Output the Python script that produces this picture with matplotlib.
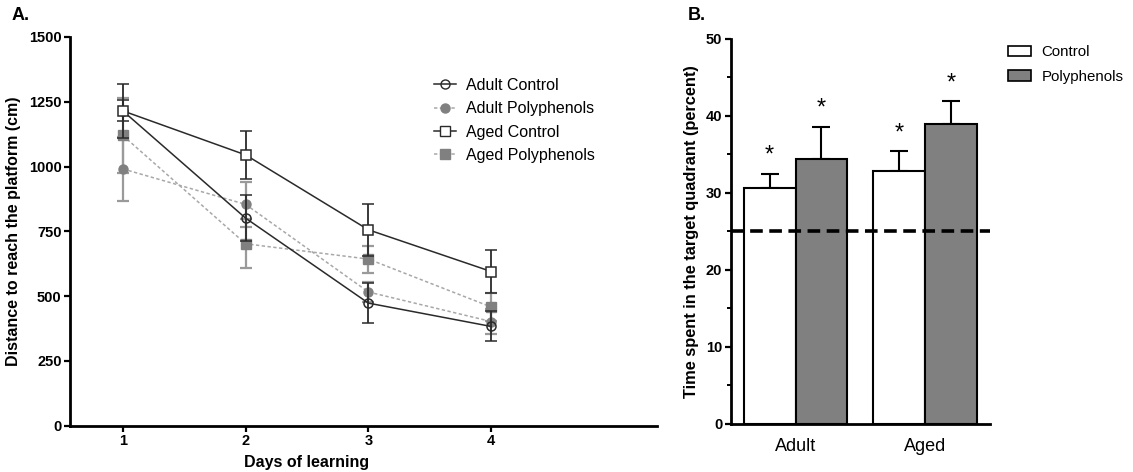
import matplotlib
matplotlib.use("Agg")
import matplotlib.pyplot as plt
from matplotlib.patches import Patch
from matplotlib.lines import Line2D

plt.rcParams['font.family'] = ['Liberation Sans', 'DejaVu Sans']

# ---- Panel A data ----
days = [1, 2, 3, 4]
adult_control = [1215, 801, 473, 383]
adult_control_err = [40, 89, 78, 58]
adult_poly = [991, 854, 516, 402]
adult_poly_err = [122, 87, 37, 49]
aged_control = [1215, 1045, 756, 595]
aged_control_err = [105, 92, 100, 84]
aged_poly = [1120, 702, 643, 458]
aged_poly_err = [143, 94, 52, 55]
series_labels = ["Adult Control", "Adult Polyphenols", "Aged Control", "Aged Polyphenols"]
a_yticks = [0, 250, 500, 750, 1000, 1250, 1500]

# ---- Panel B data ----
groups = ["Adult", "Aged"]
control_vals = [30.6, 32.9]
control_err = [1.9, 2.5]
poly_vals = [34.4, 39.0]
poly_err = [4.2, 2.9]
chance_level = 25
b_yticks = [0, 10, 20, 30, 40, 50]
b_minor = [5, 15, 25, 35, 45]

W, H = 1133, 472
fig = plt.figure(figsize=(W / 100, H / 100), dpi=100)

def fx(px):
    return px / W

def fy(py):
    return 1 - py / H

# ---------------- Panel A ----------------
axA = fig.add_axes([fx(70), fy(425.7), fx(657) - fx(70), fy(37) - fy(425.7)])
dark = '#2a2a2a'
gray_m = '#808080'
gray_l = '#a8a8a8'
gray_e = '#9a9a9a'

axA.errorbar(days, adult_poly, yerr=adult_poly_err, color=gray_l, ecolor=gray_e,
             elinewidth=1.6, capsize=4.5, capthick=1.6, linestyle=(0, (2.2, 1.6)), linewidth=1.1,
             marker='o', markersize=6.5, markerfacecolor=gray_m, markeredgecolor=gray_m, zorder=3)
axA.errorbar(days, aged_poly, yerr=aged_poly_err, color=gray_l, ecolor=gray_e,
             elinewidth=1.6, capsize=4.5, capthick=1.6, linestyle=(0, (2.2, 1.6)), linewidth=1.1,
             marker='s', markersize=7, markerfacecolor=gray_m, markeredgecolor=gray_m, zorder=3)
axA.errorbar(days, adult_control, yerr=adult_control_err, color=dark, ecolor=dark,
             elinewidth=1.3, capsize=4.5, capthick=1.3, linestyle='-', linewidth=1.1,
             marker='o', markersize=6.5, markerfacecolor='none', markeredgecolor=dark,
             markeredgewidth=1.1, zorder=4)
axA.errorbar(days, aged_control, yerr=aged_control_err, color=dark, ecolor=dark,
             elinewidth=1.3, capsize=4.5, capthick=1.3, linestyle='-', linewidth=1.1,
             marker='s', markersize=7, markerfacecolor='white', markeredgecolor=dark,
             markeredgewidth=1.1, zorder=4)

axA.set_xlim(0.57, 5.35)
axA.set_ylim(0, 1500)
axA.set_xticks(days)
axA.set_yticks(a_yticks)
for s in ['top', 'right']:
    axA.spines[s].set_visible(False)
for s in ['left', 'bottom']:
    axA.spines[s].set_linewidth(2)
axA.tick_params(axis='both', width=1.6, length=4, labelsize=10.5, pad=2)
for lab in axA.get_xticklabels() + axA.get_yticklabels():
    lab.set_fontweight('bold')
axA.set_ylabel("Distance to reach the platform (cm)", fontsize=11.5, fontweight='bold', labelpad=6)
axA.set_xlabel("Days of learning", fontsize=11.5, fontweight='bold')
axA.xaxis.set_label_coords((307 - 70) / (657 - 70), -0.075)

handlesA = [
    Line2D([], [], color=dark, lw=1.1, marker='o', markersize=6.5, markerfacecolor='none', markeredgecolor=dark),
    Line2D([], [], color=gray_l, lw=1.1, linestyle=(0, (2.2, 1.6)), marker='o', markersize=6.5,
           markerfacecolor=gray_m, markeredgecolor=gray_m),
    Line2D([], [], color=dark, lw=1.1, marker='s', markersize=7, markerfacecolor='white', markeredgecolor=dark),
    Line2D([], [], color=gray_l, lw=1.1, linestyle=(0, (2.2, 1.6)), marker='s', markersize=7,
           markerfacecolor=gray_m, markeredgecolor=gray_m),
]
fig.legend(handlesA, series_labels, loc='upper left', bbox_to_anchor=(fx(434), fy(78)),
           frameon=False, fontsize=11.5, handlelength=1.4, handletextpad=0.6,
           labelspacing=0.52, borderpad=0, borderaxespad=0)

fig.text(fx(12), fy(16), "A.", fontsize=13, fontweight='bold', va='center', ha='left')

# ---------------- Panel B ----------------
axB = fig.add_axes([fx(730.7), fy(423.7), fx(990) - fx(730.7), fy(39) - fy(423.7)])
xpos = list(range(len(groups)))
bw = 0.4
xc = [x - bw / 2 for x in xpos]
xp = [x + bw / 2 for x in xpos]
axB.bar(xc, control_vals, width=bw, color='white', edgecolor='black', linewidth=1.5, zorder=2)
axB.bar(xp, poly_vals, width=bw, color='#808080', edgecolor='black', linewidth=1.5, zorder=2)
axB.errorbar(xc, control_vals, yerr=[[0] * len(control_err), control_err], fmt='none',
             ecolor='black', elinewidth=1.5, capsize=6.5, capthick=1.5, zorder=1)
axB.errorbar(xp, poly_vals, yerr=[[0] * len(poly_err), poly_err], fmt='none',
             ecolor='black', elinewidth=1.5, capsize=6.5, capthick=1.5, zorder=1)
axB.axhline(chance_level, color='black', linewidth=2.6, linestyle=(0, (3.5, 1.8)), zorder=3)

for x, v, e in zip(xc + xp, control_vals + poly_vals, control_err + poly_err):
    axB.text(x, v + e + 0.9, "*", ha='center', va='bottom', fontsize=17)

axB.set_xlim(-0.5, 1.5)
axB.set_ylim(0, 50)
axB.set_yticks(b_yticks)
axB.set_yticks(b_minor, minor=True)
axB.set_xticks(xpos)
axB.set_xticklabels(groups, fontsize=13)
for s in ['top', 'right']:
    axB.spines[s].set_visible(False)
for s in ['left', 'bottom']:
    axB.spines[s].set_linewidth(2)
axB.tick_params(axis='y', which='major', width=1.6, length=4, labelsize=10.5, pad=2)
axB.tick_params(axis='y', which='minor', width=1.4, length=3)
axB.tick_params(axis='x', length=0, pad=10)
for lab in axB.get_yticklabels():
    lab.set_fontweight('bold')
axB.set_ylabel("Time spent in the target quadrant (percent)", fontsize=11.8, fontweight='bold', labelpad=5)

handlesB = [Patch(facecolor='white', edgecolor='black', linewidth=1.2),
            Patch(facecolor='#808080', edgecolor='black', linewidth=1.2)]
fig.legend(handlesB, ["Control", "Polyphenols"], loc='upper left', bbox_to_anchor=(fx(1008), fy(45)),
           frameon=False, fontsize=10.8, handlelength=1.5, handleheight=0.7, handletextpad=0.75,
           labelspacing=0.7, borderpad=0, borderaxespad=0)

fig.text(fx(688), fy(16), "B.", fontsize=13, fontweight='bold', va='center', ha='left')

fig.savefig("out.png", dpi=100)
